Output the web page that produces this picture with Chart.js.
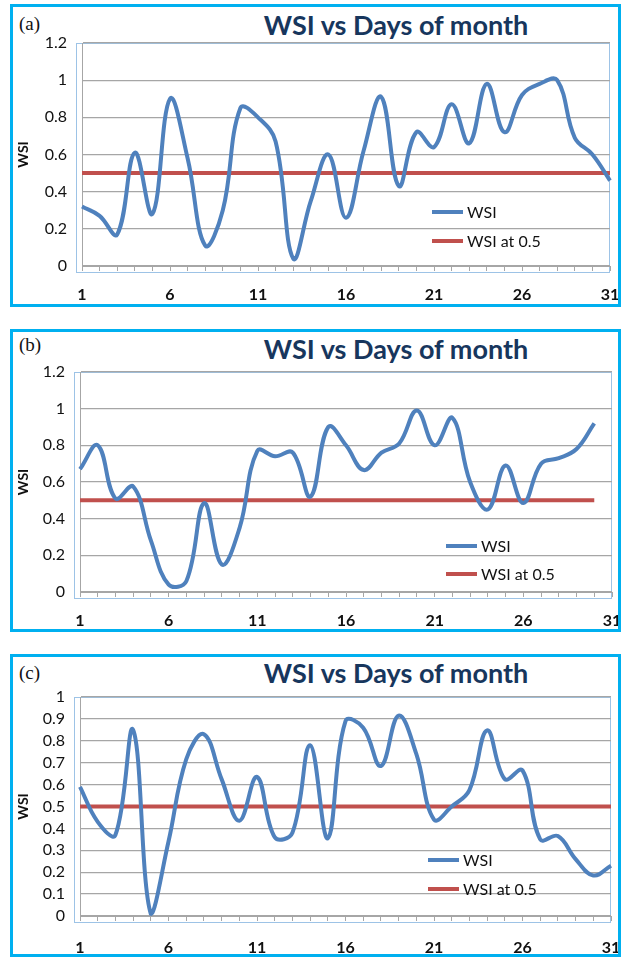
<!DOCTYPE html>
<html>
<head>
<meta charset="utf-8">
<script src="https://cdn.jsdelivr.net/npm/chart.js@4.4.0/dist/chart.umd.min.js"></script>
<style>
  body { margin: 0; background: #fff; width: 624px; height: 959px; position: relative; overflow: hidden; }
  .panel { position: absolute; left: 10px; width: 605px; height: 297px; border: 3px solid #00b0f0; }
  .panel canvas { position: absolute; left: 0; top: 0; }
  .tag { position: absolute; left: 6px; font-family: "Liberation Serif", serif; font-size: 19px; line-height: 20px; color: #111; }
  .title { position: absolute; left: 233px; width: 300px; text-align: center; font-family: Lato, sans-serif; font-weight: bold; font-size: 27px; line-height: 30px; color: #17365d; }
</style>
</head>
<body>
<div class="panel" style="top:4px">
  <div class="tag" style="top:7px">(a)</div>
  <div class="title" style="top:3px">WSI vs Days of month</div>
  <canvas id="chartA" width="605" height="297"></canvas>
</div>
<div class="panel" style="top:329px">
  <div class="tag" style="top:3px">(b)</div>
  <div class="title" style="top:2px">WSI vs Days of month</div>
  <canvas id="chartB" width="605" height="297"></canvas>
</div>
<div class="panel" style="top:654px">
  <div class="tag" style="top:6px">(c)</div>
  <div class="title" style="top:1px">WSI vs Days of month</div>
  <canvas id="chartC" width="605" height="297"></canvas>
</div>
<script>
// days of the month (x categories)
var days31 = ['1','2','3','4','5','6','7','8','9','10','11','12','13','14','15','16','17','18','19','20','21','22','23','24','25','26','27','28','29','30','31'];

// (a)
var wsiA = [0.32, 0.27, 0.17, 0.61, 0.28, 0.90, 0.58, 0.11, 0.30, 0.85, 0.80, 0.67, 0.04, 0.35, 0.60, 0.26,
            0.62, 0.91, 0.43, 0.72, 0.64, 0.87, 0.66, 0.98, 0.72, 0.92, 0.98, 1.00, 0.69, 0.60, 0.46];
var limitA = [0.5, 0.5, 0.5, 0.5, 0.5, 0.5, 0.5, 0.5, 0.5, 0.5, 0.5, 0.5, 0.5, 0.5, 0.5, 0.5,
              0.5, 0.5, 0.5, 0.5, 0.5, 0.5, 0.5, 0.5, 0.5, 0.5, 0.5, 0.5, 0.5, 0.5, 0.5];

// (b) - only 30 days
var wsiB = [0.67, 0.80, 0.51, 0.575, 0.28, 0.04, 0.06, 0.485, 0.15, 0.35, 0.77, 0.74, 0.76, 0.52, 0.90,
            0.80, 0.665, 0.76, 0.81, 0.99, 0.80, 0.95, 0.60, 0.45, 0.69, 0.485, 0.70, 0.73, 0.78, 0.92];
var limitB = [0.5, 0.5, 0.5, 0.5, 0.5, 0.5, 0.5, 0.5, 0.5, 0.5, 0.5, 0.5, 0.5, 0.5, 0.5,
              0.5, 0.5, 0.5, 0.5, 0.5, 0.5, 0.5, 0.5, 0.5, 0.5, 0.5, 0.5, 0.5, 0.5, 0.5];

// (c)
var wsiC = [0.59, 0.43, 0.37, 0.85, 0.01, 0.34, 0.715, 0.83, 0.625, 0.435, 0.635, 0.36, 0.38, 0.78, 0.355, 0.89,
            0.86, 0.685, 0.915, 0.74, 0.44, 0.50, 0.575, 0.848, 0.625, 0.665, 0.35, 0.365, 0.26, 0.185, 0.23];
var limitC = [0.5, 0.5, 0.5, 0.5, 0.5, 0.5, 0.5, 0.5, 0.5, 0.5, 0.5, 0.5, 0.5, 0.5, 0.5, 0.5,
              0.5, 0.5, 0.5, 0.5, 0.5, 0.5, 0.5, 0.5, 0.5, 0.5, 0.5, 0.5, 0.5, 0.5, 0.5];

var blue = '#4f81bd';
var red = '#c0504d';
var gridGray = '#a6a6a6';

// light blue frame around the plot area, like the excel selection border
var plotFrame = {
    id: 'plotFrame',
    beforeDraw: function (chart) {
        var a = chart.chartArea, c = chart.ctx;
        c.save();
        c.strokeStyle = '#9dc3e6';
        c.lineWidth = 1;
        c.strokeRect(a.left - 5.5, a.top + 0.5, a.right - a.left + 5, a.bottom - a.top + 6);
        c.restore();
    }
};

// legend drawn inside the plot area
var insideLegend = {
    id: 'insideLegend',
    afterDatasetsDraw: function (chart, args, opts) {
        var a = chart.chartArea, c = chart.ctx;
        c.save();
        c.font = '16px Lato, sans-serif';
        c.textBaseline = 'middle';
        chart.data.datasets.forEach(function (ds, i) {
            var y = a.top + opts.y + i * opts.gap;
            var x = a.left + opts.x;
            c.strokeStyle = ds.borderColor;
            c.lineWidth = 4;
            c.beginPath();
            c.moveTo(x, y);
            c.lineTo(x + 31, y);
            c.stroke();
            c.fillStyle = '#111';
            c.fillText(ds.label, x + 35, y + 1);
        });
        c.restore();
    }
};

function makePanel(id, labels, wsi, limit, yMax, yStep, box) {
    return new Chart(document.getElementById(id), {
        type: 'line',
        data: {
            labels: labels,
            datasets: [
                { label: 'WSI', data: wsi, borderColor: blue, borderWidth: 4, pointRadius: 0, tension: 0.4, fill: false },
                { label: 'WSI at 0.5', data: limit, borderColor: red, borderWidth: 4, pointRadius: 0, tension: 0, fill: false }
            ]
        },
        options: {
            responsive: false,
            animation: false,
            layout: { padding: { top: box.top, right: box.right, bottom: 0, left: 0 } },
            scales: {
                x: {
                    type: 'category',
                    offset: false,
                    afterFit: function (s) {
                        s.height = box.xh;
                        s.paddingLeft = 0;
                        s.paddingRight = 0;
                    },
                    grid: { drawOnChartArea: false, drawTicks: true, tickLength: 5, color: gridGray },
                    border: { display: true, color: gridGray },
                    ticks: {
                        autoSkip: false,
                        maxRotation: 0,
                        padding: box.xpad,
                        color: '#111',
                        font: { family: 'Lato, sans-serif', size: 16, weight: 'bold' },
                        callback: function (v, i) { return i % 5 === 0 ? this.getLabelForValue(v) : ''; }
                    }
                },
                y: {
                    min: 0,
                    max: yMax,
                    afterFit: function (s) { s.width = box.left; },
                    grid: { drawTicks: false, color: gridGray, lineWidth: 1.3 },
                    border: { display: true, color: gridGray },
                    ticks: {
                        stepSize: yStep,
                        autoSkip: false,
                        padding: 15,
                        color: '#111',
                        font: { family: 'Lato, sans-serif', size: 16 },
                        callback: function (v) { return String(parseFloat(v.toFixed(1))); }
                    },
                    title: { display: true, text: 'WSI', color: '#111', font: { family: 'Lato, sans-serif', size: 14, weight: 'bold' }, padding: { top: 2, bottom: 0 } }
                }
            },
            plugins: {
                legend: { display: false },
                tooltip: { enabled: false },
                insideLegend: { x: box.lx, y: box.ly, gap: box.lgap }
            }
        },
        plugins: [plotFrame, insideLegend]
    });
}

makePanel('chartA', days31, wsiA, limitA, 1.2, 0.2,
    { left: 69, right: 8, top: 36, xh: 38, xpad: 14, lx: 350, ly: 169, lgap: 29 });
makePanel('chartB', days31, wsiB, limitB, 1.2, 0.2,
    { left: 67, right: 6, top: 40, xh: 37, xpad: 14, lx: 366, ly: 174, lgap: 28 });
makePanel('chartC', days31, wsiC, limitC, 1.0, 0.1,
    { left: 67, right: 7, top: 40, xh: 38, xpad: 17, lx: 348, ly: 163, lgap: 29 });
</script>
</body>
</html>
